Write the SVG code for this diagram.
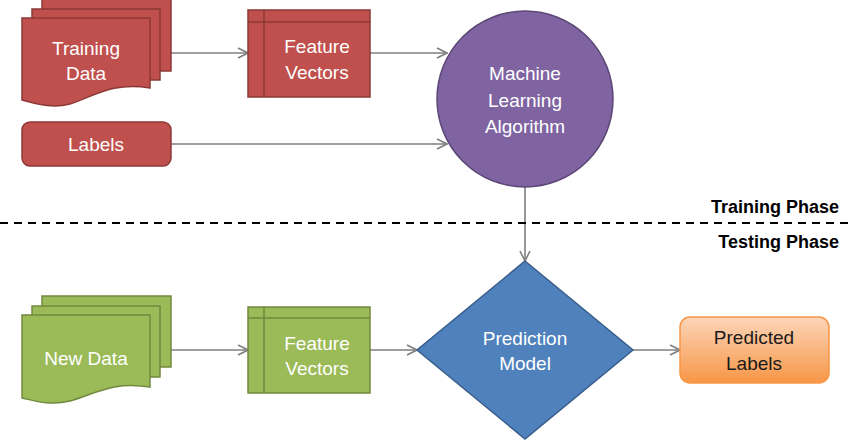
<svg xmlns="http://www.w3.org/2000/svg" width="850" height="441" viewBox="0 0 850 441">
<style>
.lbl{font-family:"Liberation Sans","Open Sans",sans-serif;font-size:19px;fill:#ffffff;text-anchor:middle}
.dark{fill:#1a1a1a}
.phase{font-family:"Liberation Sans","Open Sans",sans-serif;font-size:18px;font-weight:bold;fill:#000;text-anchor:end}
.red{fill:#c0504d;stroke:#8c3836;stroke-width:1.5}
.green{fill:#9bbb59;stroke:#71893f;stroke-width:1.5}
.conn{stroke:#7f7f7f;stroke-width:1.6;fill:none;marker-end:url(#arr)}
</style>
<defs>
<marker id="arr" viewBox="0 0 12 12" refX="11" refY="6" markerWidth="12" markerHeight="12" markerUnits="userSpaceOnUse" orient="auto">
<path d="M1,1 L11,6 L1,11" fill="none" stroke="#7f7f7f" stroke-width="1.6"/>
</marker>
<linearGradient id="og" x1="0" y1="0" x2="0" y2="1">
<stop offset="0" stop-color="#fcd5b9"/>
<stop offset="1" stop-color="#f79646"/>
</linearGradient>
</defs>

<g id="connectors">
<line class="conn" x1="171" y1="53" x2="248" y2="53"/>
<line class="conn" x1="370" y1="53" x2="447" y2="53"/>
<line class="conn" x1="171" y1="144" x2="447" y2="144"/>
<line class="conn" x1="525" y1="187" x2="525" y2="261"/>
<line class="conn" x1="171" y1="350" x2="248" y2="350"/>
<line class="conn" x1="370" y1="350" x2="417" y2="350"/>
<line class="conn" x1="633" y1="350" x2="680" y2="350"/>
</g>

<g id="phase-divider">
<line x1="0" y1="223" x2="850" y2="223" stroke="#000" stroke-width="1.8" stroke-dasharray="8,6"/>
<text class="phase" x="839" y="213">Training Phase</text>
<text class="phase" x="839" y="248">Testing Phase</text>
</g>

<g id="training-data">
<rect class="red" x="42" y="-1" width="129" height="72"/>
<rect class="red" x="32" y="9" width="128" height="71"/>
<path class="red" d="M22,18 L150,18 L150,88 C112,82 95,96 70,104 C50,109 35,103 22,100 Z"/>
<text class="lbl" x="86" y="55">Training</text>
<text class="lbl" x="86" y="80">Data</text>
</g>

<g id="labels">
<rect class="red" x="22" y="122" width="149" height="44" rx="8"/>
<text class="lbl" x="96" y="151">Labels</text>
</g>

<g id="feature-vectors-train">
<rect class="red" x="248" y="10" width="122" height="87"/>
<line x1="264" y1="10" x2="264" y2="97" stroke="#8c3836" stroke-width="1.5"/>
<line x1="248" y1="22" x2="370" y2="22" stroke="#8c3836" stroke-width="1.5"/>
<text class="lbl" x="317" y="53">Feature</text>
<text class="lbl" x="317" y="79">Vectors</text>
</g>

<g id="ml-algorithm">
<circle cx="525" cy="99" r="88" fill="#8064a2" stroke="#5c4776" stroke-width="1.5"/>
<text class="lbl" x="525" y="80">Machine</text>
<text class="lbl" x="525" y="107">Learning</text>
<text class="lbl" x="525" y="133">Algorithm</text>
</g>

<g id="new-data">
<rect class="green" x="42" y="296" width="129" height="71"/>
<rect class="green" x="32" y="306" width="128" height="71"/>
<path class="green" d="M22,315 L150,315 L150,387 C112,381 95,394 70,401 C50,406 35,401 22,398 Z"/>
<text class="lbl" x="86" y="365">New Data</text>
</g>

<g id="feature-vectors-test">
<rect class="green" x="248" y="307" width="122" height="86"/>
<line x1="264" y1="307" x2="264" y2="393" stroke="#71893f" stroke-width="1.5"/>
<line x1="248" y1="318" x2="370" y2="318" stroke="#71893f" stroke-width="1.5"/>
<text class="lbl" x="317" y="350">Feature</text>
<text class="lbl" x="317" y="375">Vectors</text>
</g>

<g id="prediction-model">
<polygon points="525,261 633,350 525,439 417,350" fill="#4f81bd" stroke="#385d8a" stroke-width="1.5"/>
<text class="lbl" x="525" y="345">Prediction</text>
<text class="lbl" x="525" y="370">Model</text>
</g>

<g id="predicted-labels">
<rect x="680" y="317" width="149" height="66" rx="10" fill="url(#og)" stroke="#f79646" stroke-width="1.5"/>
<text class="lbl dark" x="754" y="344">Predicted</text>
<text class="lbl dark" x="754" y="370">Labels</text>
</g>
</svg>
